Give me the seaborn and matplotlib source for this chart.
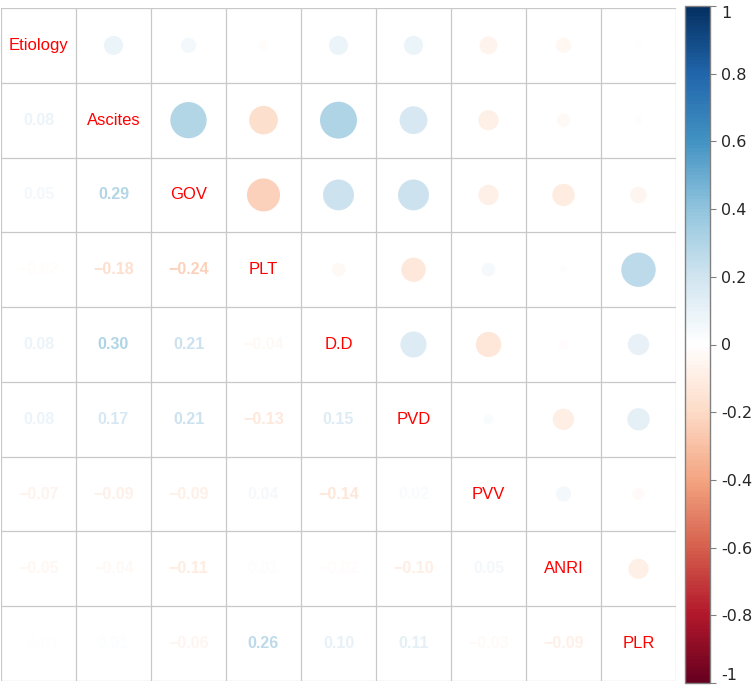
import numpy as np
import pandas as pd
import seaborn as sns
import matplotlib
matplotlib.use("Agg")
import matplotlib.pyplot as plt
from matplotlib.colors import LinearSegmentedColormap, ListedColormap, Normalize
from matplotlib.cm import ScalarMappable
from matplotlib.patches import Circle

labels = ["Etiology", "Ascites", "GOV", "PLT", "D.D", "PVD", "PVV", "ANRI", "PLR"]
# lower-triangle correlations, row by row
r_ascites = [0.08]
r_gov = [0.05, 0.29]
r_plt = [-0.02, -0.18, -0.24]
r_dd = [0.08, 0.30, 0.21, -0.04]
r_pvd = [0.08, 0.17, 0.21, -0.13, 0.15]
r_pvv = [-0.07, -0.09, -0.09, 0.04, -0.14, 0.02]
r_anri = [-0.05, -0.04, -0.11, 0.01, -0.02, -0.10, 0.05]
r_plr = [-0.01, 0.01, -0.06, 0.26, 0.10, 0.11, -0.03, -0.09]
rows = [[], r_ascites, r_gov, r_plt, r_dd, r_pvd, r_pvv, r_anri, r_plr]

n = len(labels)
M = np.eye(n)
for i, row in enumerate(rows):
    for j, v in enumerate(row):
        M[i, j] = v
        M[j, i] = v
df = pd.DataFrame(M, index=labels, columns=labels)

cols = ["#67001F", "#B2182B", "#D6604D", "#F4A582", "#FDDBC7", "#FFFFFF",
        "#D1E5F0", "#92C5DE", "#4393C3", "#2166AC", "#053061"]
cmap = LinearSegmentedColormap.from_list("corr", cols, N=200)
norm = Normalize(-1, 1)

sns.set_style("white")
plt.rcParams["font.family"] = ["Liberation Sans", "DejaVu Sans"]

fig = plt.figure(figsize=(7.53, 6.89), dpi=100)
ax = fig.add_axes([1 / 753, 8 / 689, 675 / 753, 673 / 689])

sns.heatmap(pd.DataFrame(np.zeros((n, n)), index=labels, columns=labels),
            cmap=ListedColormap(["white"]), cbar=False, linewidths=0,
            xticklabels=False, yticklabels=False, ax=ax)
for k in range(n + 1):
    ax.axhline(k, color="#C8C8C8", lw=0.9, zorder=1)
    ax.axvline(k, color="#C8C8C8", lw=0.9, zorder=1)
for s in ax.spines.values():
    s.set_visible(False)

for i in range(n):
    for j in range(n):
        v = df.iloc[i, j]
        x, y = j + 0.5, i + 0.5
        if i == j:
            ax.text(x, y, labels[i], color="red", fontsize=12,
                    ha="center", va="center")
        elif i > j:
            ax.text(x, y, f"{v:.2f}".replace("-", "\u2212"), color=cmap(norm(v)),
                    fontsize=11.5, fontweight="bold", ha="center", va="center")
        else:
            ax.add_patch(Circle((x, y), 0.45 * np.sqrt(abs(v)),
                                facecolor=cmap(norm(v)), edgecolor="none", zorder=2))

cax = fig.add_axes([685 / 753, 6 / 689, 25 / 753, 677 / 689])
cb = fig.colorbar(ScalarMappable(norm=norm, cmap=cmap), cax=cax)
ticks = [-1, -0.8, -0.6, -0.4, -0.2, 0, 0.2, 0.4, 0.6, 0.8, 1]
tick_labels = ["-1", "-0.8", "-0.6", "-0.4", "-0.2", "0", "0.2", "0.4", "0.6", "0.8", "1"]
cb.set_ticks(ticks)
cb.set_ticklabels(tick_labels)
cb.outline.set_edgecolor("#808080")
cb.outline.set_linewidth(1)
cax.tick_params(length=4, color="#808080", labelsize=11.5, pad=4)
tls = cax.get_yticklabels()
for t in tls:
    t.set_family("DejaVu Sans")
tls[0].set_verticalalignment("bottom")
tls[-1].set_verticalalignment("top")

fig.savefig("out.png", dpi=100)
